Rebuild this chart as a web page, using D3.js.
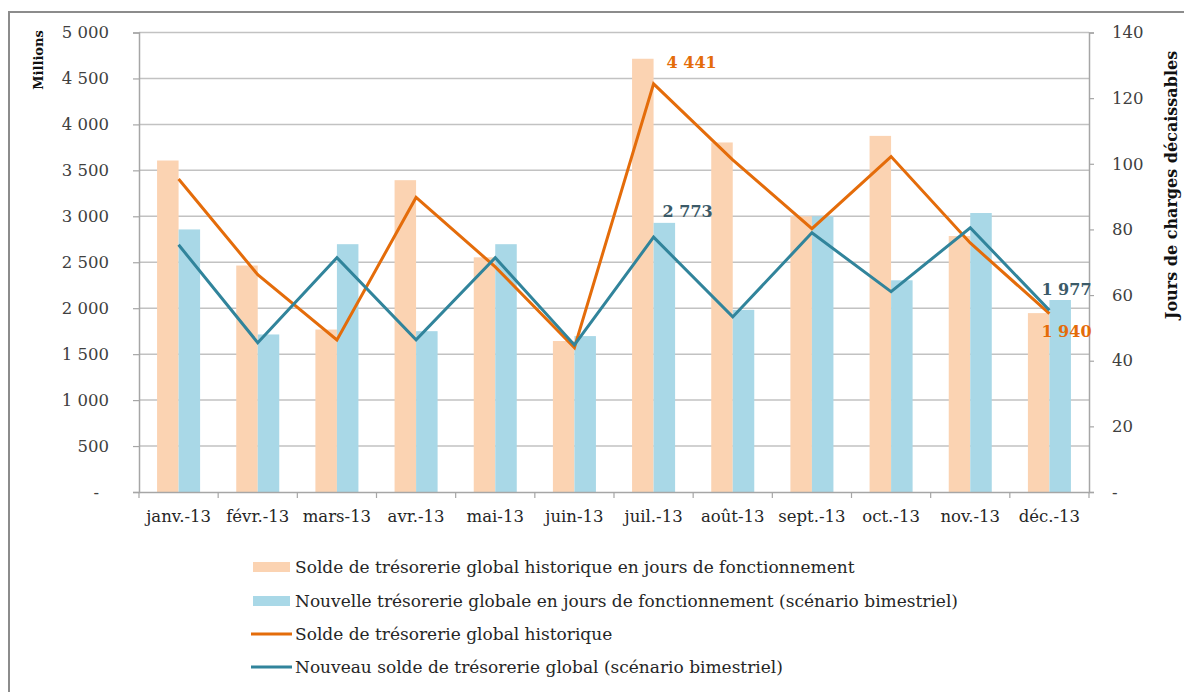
<!DOCTYPE html>
<html>
<head>
<meta charset="utf-8">
<script src="https://cdn.jsdelivr.net/npm/d3@7"></script>
<style>
  body { margin: 0; background: #fff; }
  svg { display: block; font-family: "DejaVu Serif", serif; }
</style>
</head>
<body>
<svg id="chart" width="1184" height="692"></svg>
<script>
var months = ["janv.-13","févr.-13","mars-13","avr.-13","mai-13","juin-13",
              "juil.-13","août-13","sept.-13","oct.-13","nov.-13","déc.-13"];

// bars, right axis (jours)
var joursHisto   = [101, 69, 49.5, 95, 71.5, 46, 132, 106.5, 84, 108.5, 78, 54.5];
var joursNouveau = [80, 48, 75.5, 49, 75.5, 47.5, 82, 55.5, 84, 64.5, 85, 58.5];

// lines, left axis (millions)
var soldeHisto   = [3405, 2365, 1655, 3205, 2450, 1570, 4441, 3615, 2865, 3650, 2710, 1940];
var soldeNouveau = [2690, 1625, 2550, 1655, 2550, 1600, 2773, 1905, 2820, 2180, 2875, 1977];

var leftTicks  = [0,500,1000,1500,2000,2500,3000,3500,4000,4500,5000];
var rightTicks = [0,20,40,60,80,100,120,140];

var legendLabels = [
  "Solde de trésorerie global historique en jours de fonctionnement",
  "Nouvelle trésorerie globale en jours de fonctionnement (scénario bimestriel)",
  "Solde de trésorerie global historique",
  "Nouveau solde de trésorerie global (scénario bimestriel)"
];

(function(){
var cOrangeBar = "#fbd3b2", cBlueBar = "#a9d8e7";
var cOrange = "#e46c0a", cTeal = "#31849b";

var svg = d3.select("#chart");

// outer frame
svg.append("rect").attr("x",9).attr("y",12).attr("width",1190).attr("height",700)
  .attr("fill","none").attr("stroke","#8c8c8c").attr("stroke-width",2);

var pLeft = 139, pRight = 1089, pTop = 32.5, pBottom = 492;

var x = d3.scaleBand().domain(months).range([pLeft, pRight]);
var xs = d3.scaleBand().domain(["h","n"]).range([0, x.bandwidth()]).paddingOuter(0.84);
var yL = d3.scaleLinear().domain([0,5000]).range([pBottom, pTop]);
var yR = d3.scaleLinear().domain([0,140]).range([pBottom, pTop]);

var fmt = function(d){ return d === 0 ? "-" : d3.format(",")(d).replace(",", " "); };

// gridlines
svg.append("g").selectAll("line").data(leftTicks.slice(1)).join("line")
  .attr("x1", pLeft).attr("x2", pRight)
  .attr("y1", function(d){return yL(d);}).attr("y2", function(d){return yL(d);})
  .attr("stroke","#c2c2c2").attr("stroke-width",1.5);

// bars
var bars = svg.append("g");
bars.selectAll("rect.h").data(joursHisto).join("rect").attr("class","h")
  .attr("x", function(d,i){return x(months[i]) + xs("h");})
  .attr("y", function(d){return yR(d);})
  .attr("width", xs.bandwidth())
  .attr("height", function(d){return pBottom - yR(d);})
  .attr("fill", cOrangeBar);
bars.selectAll("rect.n").data(joursNouveau).join("rect").attr("class","n")
  .attr("x", function(d,i){return x(months[i]) + xs("n");})
  .attr("y", function(d){return yR(d);})
  .attr("width", xs.bandwidth())
  .attr("height", function(d){return pBottom - yR(d);})
  .attr("fill", cBlueBar);

// axes
var axL = svg.append("g").attr("transform","translate("+pLeft+",0)")
  .call(d3.axisLeft(yL).tickValues(leftTicks).tickFormat(fmt).tickSize(6).tickPadding(24));
var axR = svg.append("g").attr("transform","translate("+pRight+",0)")
  .call(d3.axisRight(yR).tickValues(rightTicks).tickFormat(fmt).tickSize(5).tickPadding(18));
[axL, axR].forEach(function(a){
  a.select(".domain").attr("stroke","#a6a6a6").attr("stroke-width",1.5);
  a.selectAll(".tick line").attr("stroke","#a6a6a6").attr("stroke-width",1.2);
  a.selectAll(".tick text").attr("fill","#404040").style("font-size","16.5px")
    .style("font-family","DejaVu Serif");
});
axL.selectAll(".tick text").filter(function(d){return d===0;}).attr("dx",-10);

var axB = svg.append("g").attr("transform","translate(0,"+pBottom+")")
  .call(d3.axisBottom(x).tickSize(0).tickPadding(18));
axB.select(".domain").attr("stroke","#a6a6a6").attr("stroke-width",1.5);
axB.selectAll(".tick text").attr("fill","#262626").style("font-size","16.5px")
  .style("font-family","DejaVu Serif");
axB.selectAll("line.sep").data(months.concat(["end"])).join("line").attr("class","sep")
  .attr("x1", function(d,i){return pLeft + i*x.step();})
  .attr("x2", function(d,i){return pLeft + i*x.step();})
  .attr("y1",0).attr("y2",6).attr("stroke","#a6a6a6").attr("stroke-width",1.2);

// lines
var line = d3.line()
  .x(function(d,i){return x(months[i]) + x.bandwidth()/2;})
  .y(function(d){return yL(d);});
svg.append("path").datum(soldeHisto).attr("d", line)
  .attr("fill","none").attr("stroke",cOrange).attr("stroke-width",3);
svg.append("path").datum(soldeNouveau).attr("d", line)
  .attr("fill","none").attr("stroke",cTeal).attr("stroke-width",3);

// data labels
var labels = [
  {v: soldeHisto[6],    i: 6,  c: cOrange,  dx: 13, dy: -21},
  {v: soldeNouveau[6],  i: 6,  c: "#3b5a68", dx: 9, dy: -26},
  {v: soldeNouveau[11], i: 11, c: "#3b5a68", dx: -8, dy: -21},
  {v: soldeHisto[11],   i: 11, c: cOrange,  dx: -8, dy: 18}
];
svg.append("g").selectAll("text").data(labels).join("text")
  .attr("x", function(d){return x(months[d.i]) + x.bandwidth()/2 + d.dx;})
  .attr("y", function(d){return yL(d.v) + d.dy;})
  .attr("dy","0.35em")
  .attr("fill", function(d){return d.c;})
  .style("font-size","16px").style("font-weight","bold")
  .text(function(d){return fmt(d.v);});

// axis titles
svg.append("text").attr("transform","translate(38,60) rotate(-90)")
  .attr("text-anchor","middle").attr("dy","0.35em")
  .style("font-size","13px").style("font-weight","bold").attr("fill","#111")
  .text("Millions");
svg.append("text").attr("transform","translate(1171,185) rotate(-90)")
  .attr("text-anchor","middle").attr("dy","0.35em")
  .style("font-size","16px").style("font-weight","bold").attr("fill","#111")
  .text("Jours de charges décaissables");

// legend
var legY = [567, 601, 634, 667];
var leg = svg.append("g");
legendLabels.forEach(function(t, i){
  if (i < 2) {
    leg.append("rect").attr("x",253).attr("y",legY[i]-5).attr("width",37).attr("height",10)
      .attr("fill", i === 0 ? cOrangeBar : cBlueBar);
  } else {
    leg.append("line").attr("x1",251).attr("x2",292).attr("y1",legY[i]).attr("y2",legY[i])
      .attr("stroke", i === 2 ? cOrange : cTeal).attr("stroke-width",3);
  }
  leg.append("text").attr("x",295).attr("y",legY[i]).attr("dy","0.35em")
    .attr("fill","#262626").style("font-size","17px").text(t);
});
})();
</script>
</body>
</html>
